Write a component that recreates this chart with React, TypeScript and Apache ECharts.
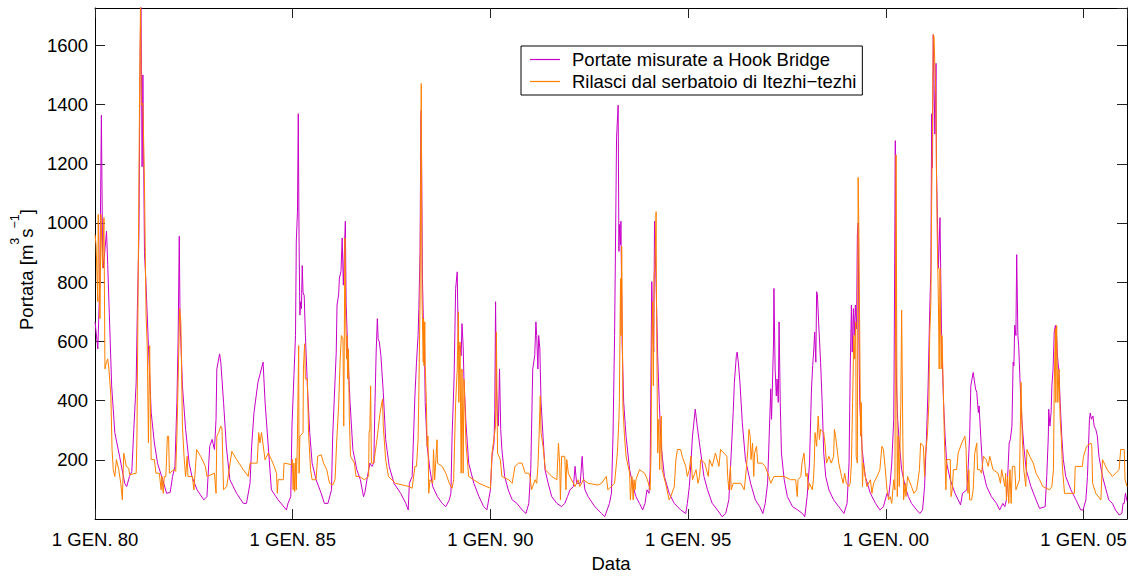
import React, { useEffect, useRef } from 'react';
import * as echarts from 'echarts';

// Portate misurate a Hook Bridge [year (decimal), m3/s]
const hookBridge: [number, number][] = [
[1980.00,666],[1980.07,575],[1980.12,800],[1980.16,1364],[1980.19,900],[1980.21,848],[1980.29,972],[1980.32,860],[1980.42,450],[1980.50,292],[1980.62,212],[1980.75,121],[1980.80,110],[1980.87,144],[1980.93,161],[1980.98,303],[1981.04,462],[1981.07,711],[1981.11,961],[1981.14,1562],[1981.16,1790],[1981.19,1190],[1981.21,1500],[1981.25,900],[1981.29,790],[1981.35,586],[1981.42,360],[1981.50,257],[1981.58,189],[1981.71,133],[1981.81,87],[1981.90,90],[1981.96,144],[1982.02,178],[1982.07,394],[1982.10,598],[1982.13,955],[1982.15,677],[1982.21,450],[1982.29,303],[1982.38,189],[1982.45,144],[1982.58,99],[1982.75,65],[1982.83,76],[1982.90,246],[1982.96,269],[1983.02,235],[1983.06,337],[1983.08,507],[1983.15,558],[1983.18,530],[1983.25,394],[1983.32,246],[1983.41,133],[1983.58,87],[1983.75,53],[1983.83,53],[1983.92,121],[1983.96,246],[1984.02,360],[1984.12,462],[1984.25,530],[1984.30,395],[1984.46,99],[1984.63,65],[1984.84,31],[1984.88,53],[1984.95,76],[1984.98,314],[1985.03,484],[1985.07,620],[1985.09,939],[1985.12,1040],[1985.14,1369],[1985.16,939],[1985.18,689],[1985.20,734],[1985.22,711],[1985.24,856],[1985.26,766],[1985.29,754],[1985.32,620],[1985.37,450],[1985.43,292],[1985.49,189],[1985.59,133],[1985.72,87],[1985.80,53],[1985.89,53],[1985.98,99],[1986.01,280],[1986.05,405],[1986.10,564],[1986.12,723],[1986.16,757],[1986.18,814],[1986.22,836],[1986.25,949],[1986.28,790],[1986.33,1006],[1986.35,734],[1986.39,564],[1986.45,394],[1986.52,235],[1986.62,167],[1986.71,133],[1986.79,76],[1986.82,87],[1986.89,144],[1986.95,189],[1987.00,178],[1987.05,189],[1987.08,394],[1987.11,564],[1987.14,677],[1987.16,609],[1987.19,598],[1987.23,552],[1987.29,428],[1987.35,269],[1987.44,178],[1987.56,121],[1987.73,87],[1987.86,53],[1987.92,31],[1987.95,121],[1988.02,144],[1988.09,416],[1988.13,530],[1988.17,620],[1988.19,711],[1988.22,904],[1988.24,1346],[1988.25,1380],[1988.28,814],[1988.30,689],[1988.33,597],[1988.35,394],[1988.40,245],[1988.47,167],[1988.54,110],[1988.66,76],[1988.78,53],[1988.87,42],[1988.96,65],[1989.00,87],[1989.03,280],[1989.08,473],[1989.12,779],[1989.16,835],[1989.19,564],[1989.23,586],[1989.26,552],[1989.28,660],[1989.31,586],[1989.33,473],[1989.38,326],[1989.45,189],[1989.58,121],[1989.71,76],[1989.83,42],[1989.91,31],[1990.00,99],[1990.04,212],[1990.09,257],[1990.11,371],[1990.13,734],[1990.15,450],[1990.18,326],[1990.20,314],[1990.23,507],[1990.26,303],[1990.29,235],[1990.36,144],[1990.45,99],[1990.55,65],[1990.67,53],[1990.80,31],[1990.90,19],[1990.97,53],[1991.02,167],[1991.04,303],[1991.07,507],[1991.12,552],[1991.15,666],[1991.17,620],[1991.20,507],[1991.22,620],[1991.25,575],[1991.28,394],[1991.33,280],[1991.38,167],[1991.46,121],[1991.55,76],[1991.68,53],[1991.80,42],[1991.88,53],[1991.95,76],[1992.01,99],[1992.10,110],[1992.14,178],[1992.18,121],[1992.27,121],[1992.32,212],[1992.35,144],[1992.39,99],[1992.47,76],[1992.64,42],[1992.81,19],[1992.89,8],[1993.01,53],[1993.06,87],[1993.10,280],[1993.14,620],[1993.19,1290],[1993.23,1398],[1993.25,904],[1993.26,995],[1993.29,927],[1993.30,1006],[1993.33,598],[1993.37,394],[1993.43,280],[1993.52,167],[1993.61,110],[1993.68,76],[1993.77,53],[1993.85,31],[1993.91,53],[1993.96,99],[1994.01,87],[1994.04,167],[1994.08,802],[1994.10,677],[1994.13,564],[1994.15,1006],[1994.20,734],[1994.23,552],[1994.27,394],[1994.32,246],[1994.40,144],[1994.52,87],[1994.65,53],[1994.81,31],[1994.94,19],[1994.98,53],[1995.03,110],[1995.07,189],[1995.11,280],[1995.18,371],[1995.23,314],[1995.32,223],[1995.40,144],[1995.49,99],[1995.61,53],[1995.74,31],[1995.86,8],[1995.95,19],[1996.03,65],[1996.09,223],[1996.14,360],[1996.17,462],[1996.22,552],[1996.24,564],[1996.27,530],[1996.31,462],[1996.37,326],[1996.45,201],[1996.58,121],[1996.70,65],[1996.81,42],[1996.89,19],[1996.95,53],[1997.01,121],[1997.05,280],[1997.09,440],[1997.11,337],[1997.16,598],[1997.17,779],[1997.20,507],[1997.23,416],[1997.25,473],[1997.28,394],[1997.30,666],[1997.33,394],[1997.36,223],[1997.43,133],[1997.51,76],[1997.64,42],[1997.77,31],[1997.89,19],[1997.95,8],[1998.01,76],[1998.07,189],[1998.12,439],[1998.15,518],[1998.18,575],[1998.20,632],[1998.23,530],[1998.25,768],[1998.27,757],[1998.30,666],[1998.35,530],[1998.39,394],[1998.43,223],[1998.48,144],[1998.56,99],[1998.68,65],[1998.81,42],[1998.94,19],[1999.02,53],[1999.07,189],[1999.10,507],[1999.13,723],[1999.15,564],[1999.18,711],[1999.20,620],[1999.23,723],[1999.26,643],[1999.28,960],[1999.30,1000],[1999.32,620],[1999.34,394],[1999.40,235],[1999.48,144],[1999.61,87],[1999.74,53],[1999.85,31],[1999.94,42],[2000.03,87],[2000.07,76],[2000.11,121],[2000.15,189],[2000.20,337],[2000.21,507],[2000.24,1278],[2000.26,564],[2000.27,450],[2000.30,337],[2000.34,257],[2000.40,167],[2000.49,110],[2000.57,76],[2000.65,53],[2000.78,31],[2000.86,19],[2000.93,31],[2000.98,110],[2001.03,280],[2001.07,450],[2001.11,705],[2001.14,847],[2001.16,1369],[2001.18,1187],[2001.20,1636],[2001.22,1471],[2001.24,1300],[2001.27,1539],[2001.28,1187],[2001.33,847],[2001.37,1018],[2001.41,620],[2001.46,394],[2001.50,280],[2001.54,189],[2001.63,133],[2001.75,87],[2001.83,65],[2001.89,48],[2001.94,87],[2002.05,99],[2002.08,167],[2002.12,280],[2002.15,450],[2002.21,495],[2002.27,439],[2002.30,428],[2002.34,360],[2002.36,382],[2002.40,280],[2002.45,167],[2002.55,110],[2002.67,76],[2002.80,53],[2002.88,31],[2002.96,53],[2003.01,42],[2003.05,65],[2003.09,167],[2003.12,257],[2003.15,269],[2003.19,314],[2003.22,530],[2003.24,518],[2003.26,655],[2003.29,620],[2003.31,893],[2003.34,620],[2003.36,586],[2003.40,450],[2003.44,337],[2003.49,246],[2003.55,167],[2003.67,110],[2003.80,65],[2003.89,36],[2004.03,42],[2004.07,144],[2004.11,280],[2004.12,371],[2004.15,314],[2004.18,360],[2004.20,450],[2004.23,507],[2004.26,632],[2004.29,654],[2004.32,620],[2004.34,552],[2004.38,496],[2004.41,394],[2004.45,280],[2004.49,201],[2004.55,144],[2004.68,99],[2004.81,65],[2004.93,31],[2004.99,31],[2005.06,65],[2005.10,144],[2005.15,337],[2005.17,358],[2005.20,337],[2005.24,348],[2005.27,314],[2005.31,303],[2005.35,280],[2005.39,212],[2005.48,144],[2005.57,99],[2005.64,65],[2005.73,53],[2005.81,31],[2005.90,14],[2005.97,19],[2006.00,53],[2006.03,53],[2006.06,87],[2006.10,60]
];

// Rilasci dal serbatoio di Itezhi-tezhi [year (decimal), m3/s]
const itezhiReleases: [number, number][] = [
[1980.00,961],[1980.025,927],[1980.07,734],[1980.08,1029],[1980.125,677],[1980.15,1029],[1980.19,847],[1980.225,1018],[1980.25,507],[1980.29,530],[1980.32,541],[1980.35,507],[1980.40,416],[1980.43,235],[1980.46,167],[1980.50,144],[1980.54,201],[1980.60,167],[1980.65,121],[1980.69,65],[1980.725,223],[1980.79,178],[1980.85,172],[1980.875,150],[1981.04,155],[1981.06,280],[1981.08,620],[1981.125,1415],[1981.15,1750],[1981.17,1398],[1981.21,1404],[1981.25,1131],[1981.29,689],[1981.32,586],[1981.35,257],[1981.38,586],[1981.42,201],[1981.50,201],[1981.54,155],[1981.625,155],[1981.67,99],[1981.69,144],[1981.725,87],[1981.75,144],[1981.79,144],[1981.83,280],[1981.86,280],[1981.88,155],[1982.00,167],[1982.04,161],[1982.07,280],[1982.10,462],[1982.14,711],[1982.17,666],[1982.21,314],[1982.25,212],[1982.29,144],[1982.33,212],[1982.35,144],[1982.46,144],[1982.50,99],[1982.57,235],[1982.67,212],[1982.79,178],[1982.83,144],[1983.02,155],[1983.06,87],[1983.08,280],[1983.125,292],[1983.18,314],[1983.21,308],[1983.25,99],[1983.33,110],[1983.46,229],[1983.58,201],[1983.75,167],[1983.875,144],[1983.92,189],[1984.10,189],[1984.14,292],[1984.17,257],[1984.21,292],
[1984.30,200],[1984.38,223],[1984.46,201],[1984.53,178],[1984.59,155],[1984.61,87],[1984.63,133],[1984.76,133],[1984.78,189],[1984.97,184],[1984.99,201],[1985.01,99],[1985.03,189],[1985.05,93],[1985.08,206],[1985.09,99],[1985.12,285],[1985.15,586],[1985.16,155],[1985.18,280],[1985.26,292],[1985.27,507],[1985.30,592],[1985.32,473],[1985.37,473],[1985.40,292],[1985.45,167],[1985.49,133],[1985.59,133],[1985.63,212],[1985.72,217],[1985.78,189],[1985.86,167],[1985.93,121],[1986.01,115],[1986.07,133],[1986.11,257],[1986.16,382],[1986.20,541],[1986.23,620],[1986.27,609],[1986.29,314],[1986.32,949],[1986.34,677],[1986.36,541],[1986.37,620],[1986.39,473],[1986.41,575],[1986.43,348],[1986.46,212],[1986.56,189],[1986.60,144],[1986.69,144],[1986.81,133],[1986.92,144],[1986.93,292],[1986.95,303],[1986.97,450],[1986.99,189],[1987.05,189],[1987.13,269],[1987.21,360],[1987.27,405],[1987.29,314],[1987.32,257],[1987.35,201],[1987.42,144],[1987.60,121],[1987.94,110],[1988.02,104],[1988.09,178],[1988.13,178],[1988.17,269],[1988.19,428],[1988.22,745],[1988.25,1471],[1988.27,745],[1988.30,530],[1988.31,677],[1988.32,518],[1988.34,666],[1988.35,518],[1988.38,394],[1988.40,245],[1988.42,280],[1988.44,87],[1988.47,133],
[1988.54,121],[1988.56,235],[1988.59,133],[1988.62,201],[1988.65,268],[1988.66,189],[1988.78,178],[1988.87,155],[1988.96,121],[1989.03,104],[1989.07,133],[1989.12,394],[1989.16,507],[1989.19,700],[1989.20,394],[1989.23,598],[1989.26,155],[1989.28,507],[1989.31,155],[1989.33,473],[1989.35,405],[1989.38,257],[1989.45,144],[1989.71,121],[1990.00,104],[1990.04,223],[1990.13,314],[1990.15,632],[1990.18,223],[1990.25,201],[1990.29,144],[1990.46,133],[1990.55,121],[1990.62,178],[1990.71,189],[1990.80,189],[1990.88,155],[1990.97,155],[1991.00,144],[1991.04,99],[1991.13,133],[1991.17,121],[1991.20,178],[1991.23,280],[1991.26,416],[1991.28,292],[1991.33,246],[1991.39,167],[1991.55,144],[1991.68,133],[1991.72,257],[1991.75,189],[1991.77,65],[1991.80,212],[1991.88,212],[1991.91,99],[1991.93,201],[1991.97,155],[1992.05,133],[1992.14,110],[1992.22,133],[1992.26,110],[1992.35,133],[1992.47,121],[1992.72,115],
[1992.81,121],[1992.93,144],[1992.97,99],[1993.14,121],[1993.21,223],[1993.25,337],[1993.26,394],[1993.29,812],[1993.30,620],[1993.32,921],[1993.34,598],[1993.35,382],[1993.39,280],[1993.43,212],[1993.52,155],[1993.54,65],[1993.58,144],[1993.61,65],[1993.63,133],[1993.66,99],[1993.68,133],[1993.77,167],[1993.90,155],[1993.97,133],[1994.04,99],[1994.06,212],[1994.08,564],[1994.10,734],[1994.12,450],[1994.14,825],[1994.16,847],[1994.19,1038],[1994.20,734],[1994.23,223],[1994.26,337],[1994.28,167],[1994.30,257],[1994.32,348],[1994.34,167],[1994.43,121],[1994.52,65],[1994.56,76],[1994.65,110],[1994.69,201],[1994.73,235],[1994.81,235],[1994.85,212],[1994.94,178],[1994.98,144],[1995.03,167],[1995.07,212],[1995.11,133],[1995.20,167],[1995.25,121],[1995.29,144],[1995.32,201],[1995.42,189],[1995.51,144],[1995.54,201],[1995.61,178],[1995.69,223],[1995.78,178],[1995.82,235],[1995.98,212],[1996.00,144],[1996.03,99],[1996.07,178],[1996.09,99],[1996.14,121],[1996.33,121],[1996.42,99],[1996.47,167],[1996.51,235],[1996.54,303],[1996.57,280],[1996.59,201],[1996.63,257],[1996.66,144],[1996.68,223],[1996.73,246],[1996.76,189],[1996.87,189],[1996.95,178],[1997.04,144],
[1997.09,121],[1997.17,144],[1997.43,144],[1997.59,133],[1997.72,133],[1997.76,76],[1997.78,133],[1997.85,144],[1997.88,189],[1997.93,223],[1997.95,189],[1997.98,144],[1998.01,155],[1998.04,99],[1998.07,121],[1998.14,99],[1998.17,133],[1998.19,189],[1998.21,292],[1998.25,246],[1998.29,348],[1998.32,269],[1998.35,303],[1998.43,292],[1998.46,257],[1998.50,189],[1998.56,212],[1998.62,189],[1998.68,212],[1998.70,303],[1998.73,280],[1998.78,223],[1998.81,189],[1998.88,144],[1998.92,121],[1998.96,155],[1999.00,121],[1999.06,110],[1999.10,121],[1999.13,189],[1999.16,394],[1999.19,620],[1999.21,541],[1999.24,666],[1999.25,212],[1999.28,189],[1999.30,1154],[1999.32,961],[1999.34,620],[1999.36,280],[1999.38,394],[1999.41,110],[1999.43,189],[1999.52,110],[1999.61,133],[1999.65,87],[1999.69,121],[1999.78,144],[1999.85,167],[1999.90,246],[1999.94,235],[1999.98,178],[2000.03,99],[2000.07,65],[2000.11,76],[2000.15,53],[2000.20,133],[2000.23,99],[2000.26,1230],[2000.29,76],[2000.31,280],[2000.34,110],[2000.38,394],[2000.40,706],[2000.43,280],[2000.45,65],[2000.49,121],[2000.51,76],[2000.55,144],[2000.65,110],[2000.71,87],[2000.78,99],[2000.85,167],[2000.88,257],[2000.95,246],[2000.98,144],[2000.99,201],[2001.05,280],[2001.09,394],[2001.11,620],[2001.14,734],[2001.16,1075],[2001.18,1300],[2001.20,1636],[2001.22,1630],[2001.24,1528],[2001.27,1415],[2001.28,1187],[2001.30,961],[2001.33,734],[2001.35,507],[2001.37,847],
[2001.40,507],[2001.42,620],[2001.46,405],[2001.48,280],[2001.52,99],[2001.54,201],[2001.63,201],[2001.65,76],[2001.68,99],[2001.71,167],[2001.79,167],[2001.83,223],[2001.92,257],[2002.00,280],[2002.03,235],[2002.05,133],[2002.08,87],[2002.10,167],[2002.12,65],[2002.17,65],[2002.21,99],[2002.25,223],[2002.30,257],[2002.32,167],[2002.38,167],[2002.42,155],[2002.47,212],[2002.54,201],[2002.59,178],[2002.63,212],[2002.71,167],[2002.84,155],[2002.90,121],[2002.93,167],[2003.01,110],[2003.03,155],[2003.05,65],[2003.08,144],[2003.11,53],[2003.14,167],[2003.17,53],[2003.20,178],[2003.26,178],[2003.29,99],[2003.38,133],[2003.42,462],[2003.45,280],[2003.49,167],[2003.54,110],[2003.57,235],[2003.64,212],[2003.73,189],[2003.80,155],[2003.89,133],[2003.97,110],[2004.14,99],[2004.20,110],[2004.24,167],[2004.26,450],[2004.29,643],[2004.30,394],[2004.32,654],[2004.35,394],[2004.38,507],[2004.41,337],[2004.44,269],[2004.47,167],[2004.52,87],[2004.77,87],[2004.79,178],[2004.97,178],[2005.00,212],[2005.08,246],[2005.19,257],[2005.21,246],[2005.23,121],[2005.31,87],[2005.44,65],[2005.48,201],[2005.60,167],[2005.73,144],[2005.90,167],[2005.94,235],[2006.03,235],[2006.05,133],[2006.10,110]
];

const seriesNames = ['Portate misurate a Hook Bridge', 'Rilasci dal serbatoio di Itezhi\u2212tezhi'];
const seriesColors = ['#c800c8', '#ff8000'];
const yearTicks = [1980, 1985, 1990, 1995, 2000, 2005];
const flowTicks = [200, 400, 600, 800, 1000, 1200, 1400, 1600];
const xRange = [1980, 2006.1];
const yRange = [0, 1726];

export default function App() {
  const ref = useRef<HTMLDivElement>(null);
  useEffect(() => {
    if (!ref.current) return;
    const chart = echarts.init(ref.current, null, { renderer: 'svg' });
    const font = '"Liberation Sans", Arial, Helvetica, sans-serif';
    const fs = 18.5;
    const xLabel = (v: number) =>
      yearTicks.includes(Math.round(v * 1000) / 1000) ? `1 GEN. ${String(Math.round(v) % 100).padStart(2, '0')}` : '';
    const yLabel = (v: number) => (flowTicks.includes(Math.round(v)) ? String(Math.round(v)) : '');
    const axisLine = { show: true, onZero: false, lineStyle: { color: '#000', width: 1 } };
    const axisTick = { show: true, inside: true, length: 10, lineStyle: { color: '#222', width: 1 } };
    const splitLine = { show: false };
    chart.setOption({
      animation: false,
      backgroundColor: '#fff',
      textStyle: { fontFamily: font },
      grid: { left: 91, right: 7, top: 8, bottom: 51, containLabel: false },
      legend: {
        data: seriesNames,
        orient: 'vertical',
        left: 521,
        top: 46,
        padding: [4, 6, 4, 9],
        itemGap: 3,
        itemWidth: 30,
        itemHeight: 1.2,
        icon: 'rect',
        borderColor: '#000',
        borderWidth: 1,
        backgroundColor: '#fff',
        textStyle: { fontSize: fs, color: '#000', fontFamily: font, padding: [0, 0, 0, 7] },
      },
      xAxis: [
        {
          type: 'value', min: xRange[0], max: xRange[1], interval: 5, position: 'bottom',
          axisLine, axisTick, splitLine,
          axisLabel: { formatter: xLabel, fontSize: fs, color: '#000', fontFamily: font, margin: 11, showMaxLabel: false },
          name: 'Data', nameLocation: 'middle', nameGap: 31,
          nameTextStyle: { fontSize: fs, color: '#000', fontFamily: font },
        },
        {
          type: 'value', min: xRange[0], max: xRange[1], interval: 5, position: 'top',
          axisLine, axisTick, splitLine, axisLabel: { show: false },
        },
      ],
      yAxis: [
        {
          type: 'value', min: yRange[0], max: yRange[1], interval: 200, position: 'left',
          axisLine, axisTick, splitLine,
          axisLabel: { formatter: yLabel, fontSize: fs, color: '#000', fontFamily: font, margin: 7, showMaxLabel: false, showMinLabel: false },
          name: '{t|Portata [m}{s|3}{t|s}{s|\u22121}{t|]}',
          nameLocation: 'middle', nameGap: 57,
          nameTextStyle: {
            fontSize: fs, color: '#000', fontFamily: font, padding: [0, 12, 0, 0],
            rich: {
              t: { fontSize: fs, color: '#000', fontFamily: font, lineHeight: 28, verticalAlign: 'bottom' },
              s: { fontSize: 12.5, color: '#000', fontFamily: font, lineHeight: 14, verticalAlign: 'top' },
            },
          },
        },
        {
          type: 'value', min: yRange[0], max: yRange[1], interval: 200, position: 'right',
          axisLine, axisTick, splitLine, axisLabel: { show: false },
        },
      ],
      series: [
        {
          name: seriesNames[0], type: 'line', data: hookBridge, xAxisIndex: 0, yAxisIndex: 0,
          showSymbol: false, symbol: 'none', clip: true,
          lineStyle: { width: 1, color: seriesColors[0] }, itemStyle: { color: seriesColors[0] },
        },
        {
          name: seriesNames[1], type: 'line', data: itezhiReleases, xAxisIndex: 0, yAxisIndex: 0,
          showSymbol: false, symbol: 'none', clip: true,
          lineStyle: { width: 1, color: seriesColors[1] }, itemStyle: { color: seriesColors[1] },
        },
      ],
    });
    return () => chart.dispose();
  }, []);
  return <div ref={ref} style={{ position: 'fixed', left: 0, top: 0, width: 1134, height: 578 }} />;
}
